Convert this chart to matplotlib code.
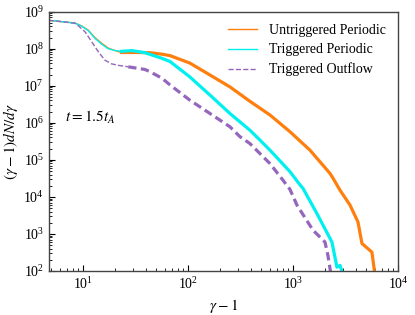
import matplotlib
matplotlib.use("Agg")
import matplotlib.pyplot as plt
import numpy as np

plt.rcParams['font.family'] = ['Liberation Serif', 'DejaVu Serif']
plt.rcParams['mathtext.fontset'] = 'stix'

# thin low-energy segments (gamma-1, (gamma-1)dN/dgamma)
low_gamma = [4.74, 5.41, 6.75, 8.39, 9.70, 11.2, 13.0, 15.1, 17.4, 20.2, 23.3]
low_untrig = [5.82e8, 5.62e8, 5.25e8, 4.95e8, 4.15e8, 3.2e8, 2.0e8, 1.4e8, 1.04e8, 8.9e7, 7.9e7]
low_trig = [5.82e8, 5.62e8, 5.25e8, 4.9e8, 4.07e8, 3.09e8, 1.91e8, 1.32e8, 1.0e8, 8.9e7, 8.5e7]
low_gamma_out = [4.74, 5.41, 6.75, 8.39, 9.02, 10.45, 12.1, 14.0, 16.2, 18.7, 21.7, 27.0]
low_out = [5.82e8, 5.62e8, 5.25e8, 4.85e8, 4.17e8, 2.88e8, 1.55e8, 8.3e7, 4.9e7, 3.9e7, 3.55e7, 3.24e7]

# thick segments
untrig_gamma = [23.3, 31.6, 43.4, 56.5, 67.5, 104, 162, 251, 389, 604, 935, 1452, 2249, 2404, 2805, 3491, 4159, 4539, 5649, 6110]
untrig_vals = [7.9e7, 7.9e7, 7.8e7, 7.1e7, 6.5e7, 4.1e7, 1.95e7, 9.3e6, 3.8e6, 1.62e6, 5.75e5, 1.82e5, 4.3e4, 3.2e4, 1.51e4, 6.0e3, 2.1e3, 5.5e2, 3.2e2, 6.0e1]
trig_gamma = [23.3, 29.3, 38.9, 56.5, 67.5, 104, 162, 251, 389, 485, 604, 935, 1167, 1245, 1694, 2350, 2624, 2805, 2992]
trig_vals = [8.5e7, 8.9e7, 7.8e7, 5.5e7, 4.5e7, 1.74e7, 5.6e6, 1.78e6, 6.3e5, 3.4e5, 1.82e5, 4.8e4, 2.1e4, 1.7e4, 3.5e3, 6.0e2, 1.26e2, 1.41e2, 8.0e1]
out_gamma = [27.0, 38.9, 43.4, 56.5, 67.5, 104, 162, 251, 313, 389, 604, 804, 935, 1091, 1549, 2018, 2153, 2301]
out_vals = [3.24e7, 2.75e7, 2.4e7, 1.6e7, 1.05e7, 4.1e6, 1.78e6, 7.8e5, 4.2e5, 2.75e5, 7.9e4, 2.8e4, 1.6e4, 6.0e3, 1.26e3, 6.0e2, 2.6e2, 8.0e1]

c_or = '#ff7f0e'
c_cy = '#00f0f0'
c_pu = '#9467bd'

fig = plt.figure(figsize=(4.15, 3.15), dpi=100)
ax = fig.add_axes([0.118, 0.14, 0.841, 0.823])

ax.plot(low_gamma, low_untrig, color=c_or, lw=1.0, label='Untriggered Periodic')
ax.plot(low_gamma, low_trig, color=c_cy, lw=1.0, label='Triggered Periodic')
ax.plot(low_gamma_out, low_out, color=c_pu, lw=1.0, ls='--', label='Triggered Outflow')
ax.plot(untrig_gamma, untrig_vals, color=c_or, lw=2.3)
ax.plot(trig_gamma, trig_vals, color=c_cy, lw=2.3)
ax.plot(out_gamma, out_vals, color=c_pu, lw=2.3, ls=(0, (2.6, 1.4)))

ax.set_xscale('log')
ax.set_yscale('log')
ax.set_xlim(4.75, 1e4)
ax.set_ylim(1e2, 1e9)
ax.tick_params(which='both', direction='in', labelsize=10)
ax.tick_params(which='major', length=4)
ax.tick_params(which='minor', length=2)
for s in ax.spines.values():
    s.set_color('#444444')
    s.set_linewidth(1.0)

ax.set_xlabel(r'$\gamma-1$', fontsize=11)
ax.set_ylabel(r'$(\gamma-1)dN/d\gamma$', fontsize=11, labelpad=2)
ax.text(0.046, 0.59, r'$t=1.5t_A$', transform=ax.transAxes, fontsize=11, va='center')

leg = ax.legend(loc='upper right', frameon=False, fontsize=10, handlelength=2.1,
                borderaxespad=0.5, labelspacing=0.45)

fig.savefig('out.png', dpi=100)
